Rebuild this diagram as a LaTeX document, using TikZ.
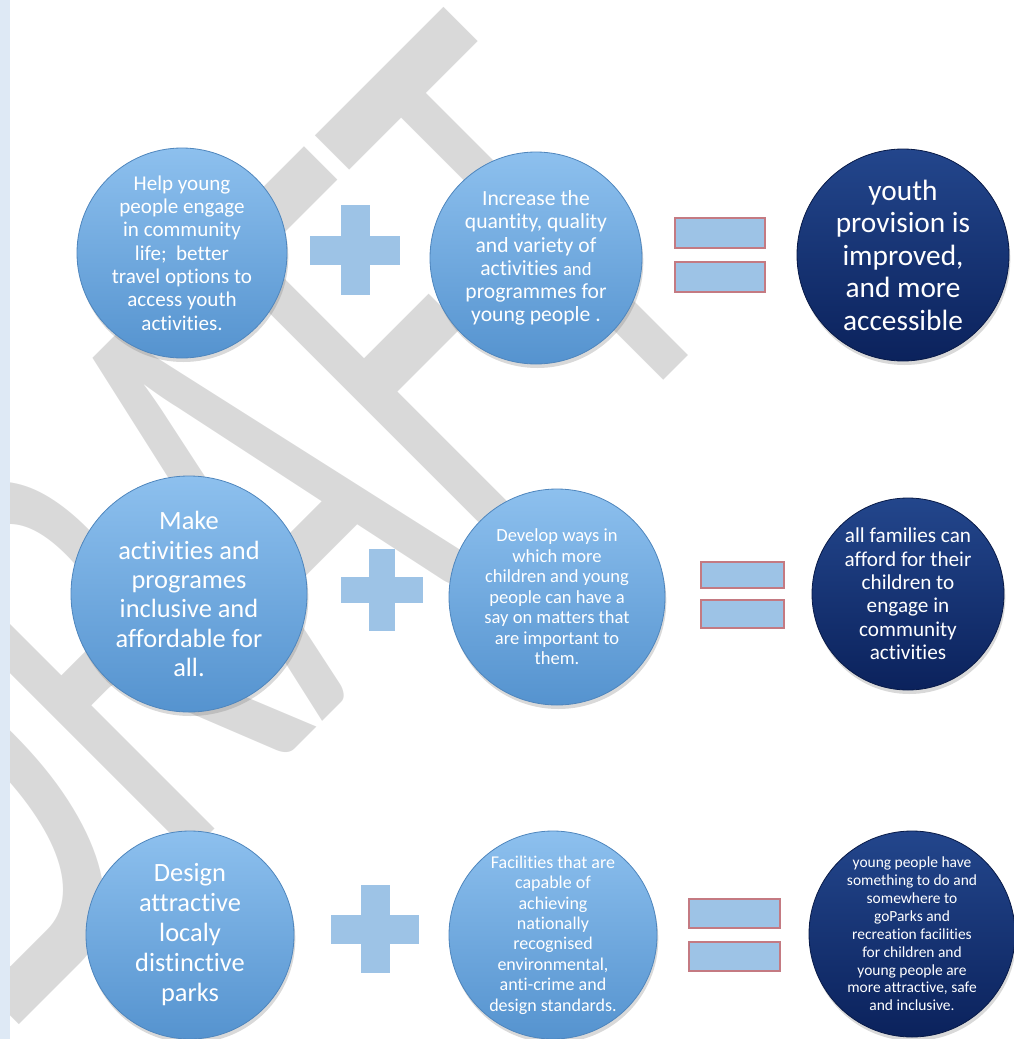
\documentclass[tikz,border=0pt]{standalone}
\usepackage{fontspec}
\setmainfont{Carlito}[Ligatures=NoCommon]
\usetikzlibrary{shadows}
\definecolor{bubbletop}{HTML}{8DC0EE}
\definecolor{bubblemid}{HTML}{5B9BD5}
\definecolor{bubblebot}{HTML}{5593CF}
\definecolor{bubblerim}{HTML}{4F86BD}
\definecolor{navytop}{HTML}{23468C}
\definecolor{navymid}{HTML}{0F2B6B}
\definecolor{navybot}{HTML}{0B225C}
\definecolor{navyrim}{HTML}{081A48}
\definecolor{signblue}{HTML}{9DC3E6}
\definecolor{signrim}{HTML}{C47A82}
\definecolor{wmgray}{HTML}{D9D9D9}
\definecolor{sidebar}{HTML}{DEE9F5}
\newcommand\bfs[2]{\fontsize{#1}{#2}\selectfont}
\newcommand\plussign[4]{%
  \fill[plusfill] (#1-#4,#2-#3) rectangle (#1+#4,#2+#3);
  \fill[plusfill] (#1-#3,#2-#4) rectangle (#1+#3,#2+#4);}
\tikzset{
  bubble/.style={circle, minimum size=#1*1.5pt, inner sep=0pt,
    top color=bubbletop, middle color=bubblemid, bottom color=bubblebot,
    draw=bubblerim, line width=.6pt,
    drop shadow={shadow xshift=1pt, shadow yshift=-3pt, opacity=.3}},
  navybubble/.style={bubble=#1, top color=navytop, middle color=navymid,
    bottom color=navybot, draw=navyrim},
  bubbletext/.style={text=white, align=center, inner sep=0pt},
  plusfill/.style={fill=signblue},
  eqbar/.style={fill=signblue, draw=signrim, line width=1.2pt},
  wmark/.style={text=wmgray, inner sep=0pt, font=\bfs{490}{490}}
}
\begin{document}
\begin{tikzpicture}[x=0.75pt,y=-0.75pt]
\useasboundingbox (0,0) rectangle (1014,1039);
% watermark
\begin{scope}
  \clip (0,0) rectangle (1014,1039);
  \node[wmark, anchor=base east, rotate=45, xscale=.6] (wm) at (744,300) {DRAFT};
\end{scope}
\fill[sidebar] (0,0) rectangle (10,1039);

% first row
\node[bubble=105] (help) at (182,253) {};
\node[bubbletext, font=\bfs{15.8}{17.5}] (helpt) at (help) {Help young\\people engage\\in community\\life;~ better\\travel options to\\access youth\\activities.};
\plussign{355}{250}{45}{14.5}
\node[bubble=106] (incr) at (536,258) {};
\node[bubbletext, font=\bfs{16.2}{17.4}] (incrt) at (incr) {Increase the\\quantity, quality\\and variety of\\activities {\bfs{14}{17.4}and}\\programmes for\\young people .};
\fill[eqbar] (675,218) rectangle (765,248);
\fill[eqbar] (675,262) rectangle (765,292);
\node[navybubble=106] (youth) at (903,255) {};
\node[bubbletext, font=\bfs{22}{24.4}] (youtht) at (youth) {youth\\provision is\\improved,\\and more\\accessible};

% second row
\node[bubble=118] (make) at (189,594) {};
\node[bubbletext, font=\bfs{19.8}{22}] (maket) at (make) {Make\\activities and\\programes\\inclusive and\\affordable for\\all.};
\plussign{382}{590}{41}{13}
\node[bubble=108] (dev) at (557,597) {};
\node[bubbletext, font=\bfs{13.9}{15.4}] (devt) at (dev) {Develop ways in\\which more\\children and young\\people can have a\\say on matters that\\are important to\\them.};
\fill[eqbar] (701,562) rectangle (784,588);
\fill[eqbar] (701,600) rectangle (784,628);
\node[navybubble=96] (fam) at (908,594) {};
\node[bubbletext, font=\bfs{15.9}{17.5}] (famt) at (fam) {all families can\\afford for their\\children to\\engage in\\community\\activities};

% third row
\node[bubble=104] (park) at (190,935) {};
\node[bubbletext, font=\bfs{19.8}{22.5}] (parkt) at (park) {Design\\attractive\\localy\\distinctive\\parks};
\plussign{375}{929}{44}{14.5}
\node[bubble=104] (fac) at (553,935) {};
\node[bubbletext, font=\bfs{13.5}{15.3}] (fact) at (fac) {Facilities that are\\capable of\\achieving\\nationally\\recognised\\environmental,\\anti-crime and\\design standards.};
\fill[eqbar] (689,899) rectangle (780,928);
\fill[eqbar] (689,942) rectangle (780,971);
\node[navybubble=103] (young) at (912,934) {};
\node[bubbletext, font=\bfs{11.6}{13.4}] (youngt) at (young) {young people have\\something to do and\\somewhere to\\goParks and\\recreation facilities\\for children and\\young people are\\more attractive, safe\\and inclusive.};
\end{tikzpicture}
\end{document}
